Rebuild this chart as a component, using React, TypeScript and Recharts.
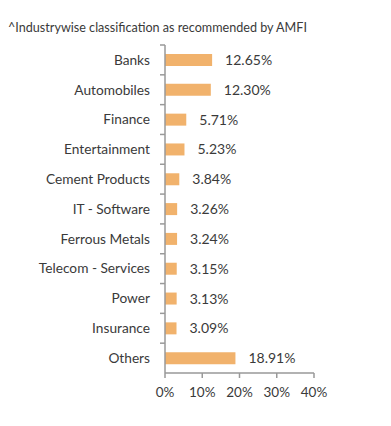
import { BarChart, Bar, XAxis, YAxis, LabelList } from "recharts"

const industries = [
  "Banks",
  "Automobiles",
  "Finance",
  "Entertainment",
  "Cement Products",
  "IT - Software",
  "Ferrous Metals",
  "Telecom - Services",
  "Power",
  "Insurance",
  "Others",
]
const weights = [12.65, 12.3, 5.71, 5.23, 3.84, 3.26, 3.24, 3.15, 3.13, 3.09, 18.91]
const xTicks = [0, 10, 20, 30, 40]

const data = industries.map((name, i) => ({ name, value: weights[i] }))

const W = 391
const H = 426
const TOP = 45
const XAXIS_H = 53
const band = (H - TOP - XAXIS_H) / industries.length
const font = "Lato, 'Open Sans', sans-serif"
const textColor = "#3a3a3a"

function CategoryTick(props: any) {
  const { x, y, payload } = props
  const axisX = x + 15
  return (
    <g>
      <line x1={axisX - 5} x2={axisX} y1={y - band / 2} y2={y - band / 2} stroke="#999" strokeWidth={1.5} />
      <text x={x} y={y} dy="0.35em" textAnchor="end" fontSize={13.7} fill={textColor} fontFamily={font}>
        {payload.value}
      </text>
    </g>
  )
}

export default function App() {
  return (
    <div style={{ position: "absolute", left: 0, top: 0, width: W, height: H, background: "#fff" }}>
      <div
        style={{
          position: "absolute",
          left: 8,
          top: 20,
          fontSize: 12.6,
          color: textColor,
          fontFamily: font,
          whiteSpace: "nowrap",
        }}
      >
        ^Industrywise classification as recommended by AMFI
      </div>
      <BarChart
        width={W}
        height={H}
        data={data}
        layout="vertical"
        margin={{ top: TOP, right: 77, left: 0, bottom: 0 }}
      >
        <XAxis
          type="number"
          domain={[0, 40]}
          ticks={xTicks}
          tickFormatter={(v) => `${v}%`}
          height={XAXIS_H}
          stroke="#999"
          strokeWidth={1.5}
          tickSize={5}
          tickMargin={9}
          tick={{ fill: textColor, fontSize: 13.5, fontFamily: font }}
        />
        <YAxis
          type="category"
          dataKey="name"
          width={165}
          stroke="#999"
          strokeWidth={1.5}
          tickLine={false}
          tickSize={0}
          tickMargin={15}
          tick={<CategoryTick />}
          interval={0}
        />
        <Bar dataKey="value" fill="#F1B26C" barSize={12} isAnimationActive={false}>
          <LabelList
            dataKey="value"
            position="right"
            offset={13}
            formatter={(v: any) => `${Number(v).toFixed(2)}%`}
            style={{ fill: textColor, fontSize: 14, fontFamily: font }}
          />
        </Bar>
      </BarChart>
    </div>
  )
}
